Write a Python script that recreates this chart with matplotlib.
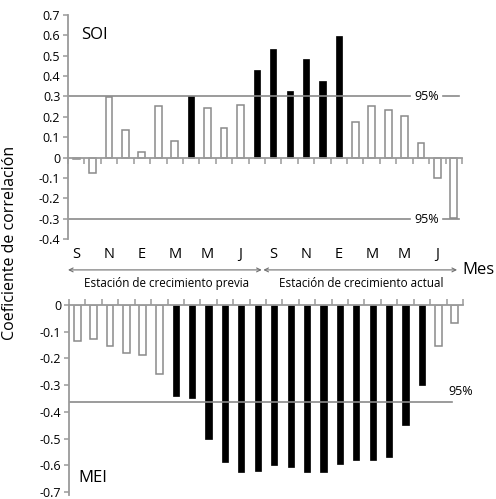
import numpy as np
import matplotlib
matplotlib.use('Agg')
import matplotlib.pyplot as plt

plt.rcParams['font.family'] = ['Open Sans', 'DejaVu Sans']

# Coefficients per month, two growth seasons (S..A, S..A)
soi = [-0.005, -0.076, 0.295, 0.134, 0.029, 0.253, 0.082, 0.300, 0.244, 0.145, 0.258, 0.432,
       0.534, 0.327, 0.484, 0.374, 0.595, 0.173, 0.253, 0.234, 0.203, 0.073, -0.100, -0.296]
soi_sig = [0, 0, 0, 0, 0, 0, 0, 1, 0, 0, 0, 1,
           1, 1, 1, 1, 1, 0, 0, 0, 0, 0, 0, 0]
mei = [-0.133, -0.128, -0.152, -0.180, -0.186, -0.259, -0.341, -0.349, -0.502, -0.589, -0.627, -0.623,
       -0.600, -0.605, -0.627, -0.627, -0.596, -0.580, -0.580, -0.569, -0.450, -0.299, -0.152, -0.068]
mei_sig = [0, 0, 0, 0, 0, 0, 1, 1, 1, 1, 1, 1,
           1, 1, 1, 1, 1, 1, 1, 1, 1, 1, 0, 0]
soi_limit = 0.302
mei_limit = -0.364

month_labels = ['S', 'N', 'E', 'M', 'M', 'J', 'S', 'N', 'E', 'M', 'M', 'J']
soi_yticks = [0.7, 0.6, 0.5, 0.4, 0.3, 0.2, 0.1, 0, -0.1, -0.2, -0.3, -0.4]
mei_yticks = [0, -0.1, -0.2, -0.3, -0.4, -0.5, -0.6, -0.7]

GRAY = '#9a9a9a'
EDGE = '#8a8a8a'
W, H = 496, 499

fig = plt.figure(figsize=(W / 100, H / 100), dpi=100)


def px_axes(left, right, top, bottom):
    return fig.add_axes([left / W, 1 - bottom / H, (right - left) / W, (bottom - top) / H])


def style_axis(ax, yticks):
    ax.set_xlim(-0.5, 23.5)
    ax.set_yticks(yticks)
    ax.set_yticklabels([('%g' % t) for t in yticks])
    ax.set_xticks(np.arange(-0.5, 24, 1))
    ax.set_xticklabels([])
    ax.spines['right'].set_visible(False)
    ax.spines['left'].set_color(GRAY)
    ax.spines['left'].set_linewidth(1.3)
    ax.tick_params(axis='y', colors=GRAY, labelcolor='black', labelsize=9,
                   length=3.5, width=1.1, pad=2)
    ax.tick_params(axis='x', colors=GRAY, length=4, width=1.1)
    ax.patch.set_alpha(0)


def draw_bars(ax, vals, sig):
    x = np.arange(len(vals))
    for xi, v, s in zip(x, vals, sig):
        if s:
            ax.bar(xi, v, width=0.38, color='black', edgecolor='black', linewidth=0.5)
        else:
            ax.bar(xi, v, width=0.42, color='white', edgecolor=EDGE, linewidth=1.1)


# --- SOI panel ---
ax1 = px_axes(68, 462, 15, 239)
ax1.set_ylim(-0.4, 0.7)
style_axis(ax1, soi_yticks)
ax1.spines['top'].set_visible(False)
ax1.spines['bottom'].set_position(('data', 0))
ax1.spines['bottom'].set_color(GRAY)
ax1.spines['bottom'].set_linewidth(1.3)
ax1.tick_params(axis='x', direction='out')
draw_bars(ax1, soi, soi_sig)
for lv in [soi_limit, -soi_limit]:
    ax1.plot([-0.5, 20.35], [lv, lv], color=EDGE, lw=1.2, zorder=1)
    ax1.plot([22.35, 23.3], [lv, lv], color=EDGE, lw=1.2, zorder=1)
    ax1.text(21.35, lv, '95%', ha='center', va='center', fontsize=9)
ax1.text(0.3, 0.6, 'SOI', fontsize=12, va='center')

# month labels, arrows and season labels
tr = ax1.get_xaxis_transform()
for i, lab in enumerate(month_labels):
    ax1.text(2 * i, -0.068, lab, transform=tr, ha='center', va='center', fontsize=10.5,
             clip_on=False)
arrow = dict(arrowstyle='<->', color='#707070', lw=0.8, mutation_scale=7,
             shrinkA=0, shrinkB=0)
ax1.annotate('', xy=(-0.5, -0.138), xytext=(11.3, -0.138), xycoords=tr, arrowprops=arrow)
ax1.annotate('', xy=(11.4, -0.138), xytext=(23.2, -0.138), xycoords=tr, arrowprops=arrow)
ax1.text(5.5, -0.2, 'Estación de crecimiento previa', transform=tr, ha='center',
         va='center', fontsize=8.4)
ax1.text(17.35, -0.198, 'Estación de crecimiento actual', transform=tr, ha='center',
         va='center', fontsize=8.4)
ax1.text(23.55, -0.138, 'Mes', transform=tr, ha='left', va='center', fontsize=12)

# --- MEI panel ---
ax2 = px_axes(69, 463, 305, 492)
ax2.set_ylim(-0.7, 0)
style_axis(ax2, mei_yticks)
ax2.spines['bottom'].set_visible(False)
ax2.spines['top'].set_color(GRAY)
ax2.spines['top'].set_linewidth(1.3)
ax2.xaxis.tick_top()
ax2.tick_params(axis='x', direction='out', length=4)
ax2.spines['left'].set_bounds(-0.71, 0)
draw_bars(ax2, mei, mei_sig)
ax2.plot([-0.5, 22.8], [mei_limit, mei_limit], color=EDGE, lw=1.2, zorder=1)
ax2.text(22.6, -0.322, '95%', ha='left', va='center', fontsize=9)
ax2.text(0.1, -0.648, 'MEI', fontsize=12, va='center')

fig.text(10 / W, 1 - 243 / H, 'Coeficiente de correlación', rotation=90,
         ha='center', va='center', fontsize=11.5)

fig.savefig('out.png', dpi=100)
